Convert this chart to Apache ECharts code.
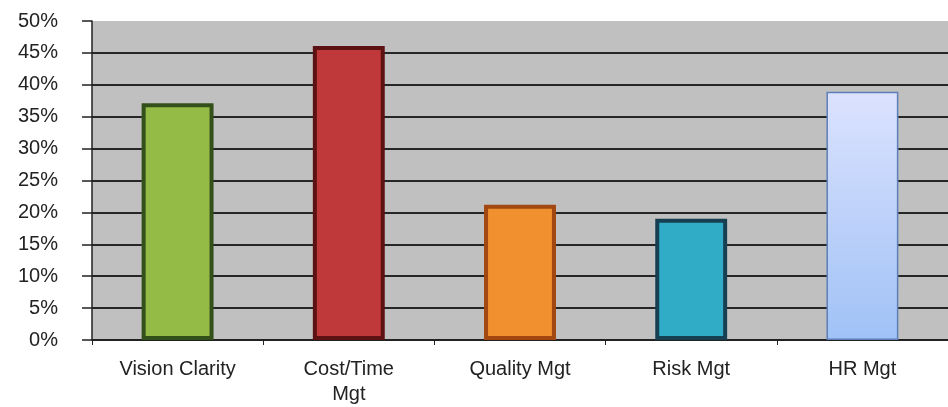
<!DOCTYPE html>
<html>
<head>
<meta charset="utf-8">
<script src="https://cdn.jsdelivr.net/npm/echarts@6/dist/echarts.min.js"></script>
<style>
  html, body { margin: 0; padding: 0; background: #fff; }
  #chart { width: 948px; height: 407px; }
</style>
</head>
<body>
<div id="chart"></div>
<script>
// data
var categories = ['Vision Clarity', 'Cost/Time\nMgt', 'Quality Mgt', 'Risk Mgt', 'HR Mgt'];
var values = [0.371, 0.461, 0.212, 0.19, 0.389];
var fills = ['#95bb47', '#c0393a', '#f0902f', '#31acc6', null];
var borders = ['#34501a', '#5c1212', '#a2470f', '#173f52', '#5d7fb8'];
var borderWidths = [4, 4, 4, 4, 1.5];

window.onload = function () {
    var myChart = echarts.init(document.getElementById('chart'));
    var hrFill = new echarts.graphic.LinearGradient(0, 0, 0, 1, [
        { offset: 0, color: '#dce2fe' },
        { offset: 1, color: '#a0c2f6' }
    ]);
    var data = [];
    for (var i = 0; i < values.length; i++) {
        data.push({
            value: values[i],
            itemStyle: {
                color: fills[i] || hrFill,
                borderColor: borders[i],
                borderWidth: borderWidths[i]
            }
        });
    }
    var font = 'Liberation Sans, Arial, sans-serif';
    var option = {
        animation: false,
        grid: {
            left: 92, right: 0, top: 21, bottom: 65,
            show: true, backgroundColor: '#c0c0c0', borderWidth: 0
        },
        xAxis: {
            type: 'category',
            data: categories,
            axisLine: { lineStyle: { color: '#222', width: 1.5 } },
            axisTick: { show: true, length: 5, lineStyle: { color: '#222' } },
            axisLabel: {
                color: '#222', fontSize: 20, margin: 17, lineHeight: 25,
                fontFamily: font
            }
        },
        yAxis: {
            type: 'value',
            min: 0, max: 0.5, interval: 0.05,
            axisLine: { show: true, lineStyle: { color: '#222', width: 1.5 } },
            axisTick: { show: true, length: 10, lineStyle: { color: '#222', width: 1.5 } },
            axisLabel: {
                color: '#222', fontSize: 20, margin: 34,
                fontFamily: font,
                formatter: function (v) { return Math.round(v * 100) + '%'; }
            },
            splitLine: { showMaxLine: false, lineStyle: { color: '#262626', width: 2 } }
        },
        series: [{
            type: 'bar',
            data: data,
            barWidth: '42%'
        }]
    };
    myChart.setOption(option);
};
</script>
</body>
</html>
